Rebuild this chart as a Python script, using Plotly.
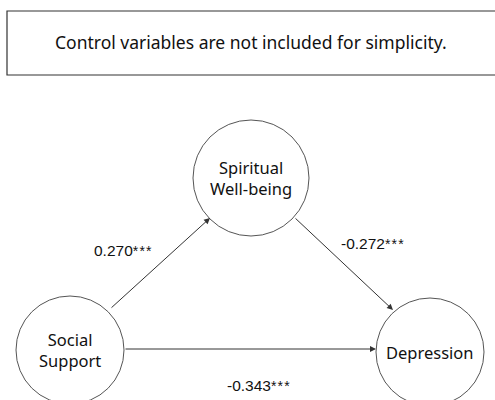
import plotly.graph_objects as go

note = "Control variables are not included for simplicity."
nodes = ["Social<br>Support", "Spiritual<br>Well-being", "Depression"]
paths_from = [0, 1, 0]
paths_to = [1, 2, 2]
coefs = ["0.270", "-0.272", "-0.343"]
sig = ["***", "***", "***"]

# layout (pixel space)
node_xy = [(70, 350), (251, 178), (430, 352)]
node_r = [54, 58, 54]
arrow_tail = [(110, 309), (294, 217), (124, 349)]
arrow_tip = [(210, 218), (393, 310), (376, 349)]
label_xy = [(123, 250), (372, 243), (258, 385)]

fig = go.Figure()
fig.update_layout(
    width=495, height=400, margin=dict(l=0, r=0, t=0, b=0),
    paper_bgcolor="white", plot_bgcolor="white", showlegend=False,
    xaxis=dict(range=[0, 495], visible=False, fixedrange=True),
    yaxis=dict(range=[400, 0], visible=False, fixedrange=True),
)

shapes = [dict(type="rect", xref="x", yref="y", x0=7, y0=11, x1=500, y1=75,
               line=dict(color="#333333", width=1.2), fillcolor="white", layer="below")]
for (cx, cy), r in zip(node_xy, node_r):
    shapes.append(dict(type="circle", xref="x", yref="y", x0=cx - r, x1=cx + r,
                       y0=cy - r, y1=cy + r, line=dict(color="#555555", width=1),
                       fillcolor="white", layer="below"))
fig.update_layout(shapes=shapes)

ann = [dict(x=251, y=42, xref="x", yref="y", text=note, showarrow=False,
            font=dict(family="Noto Sans", size=17.5, color="#111111"))]
for (cx, cy), t in zip(node_xy, nodes):
    ann.append(dict(x=cx, y=cy, xref="x", yref="y", text=t, showarrow=False,
                    font=dict(family="Noto Sans", size=16.5, color="#111111")))
for i in range(len(coefs)):
    tx, ty = arrow_tail[i]
    hx, hy = arrow_tip[i]
    ann.append(dict(x=hx, y=hy, ax=tx, ay=ty, xref="x", yref="y", axref="x", ayref="y",
                    text="", showarrow=True, arrowhead=2, arrowsize=1.2, arrowwidth=1,
                    arrowcolor="#333333", standoff=0, startstandoff=0))
    lx, ly = label_xy[i]
    stars = "\u200a".join(sig[i])
    ann.append(dict(x=lx, y=ly, xref="x", yref="y",
                    text=coefs[i] + "<span style='font-size:14px'>" + stars + "</span>",
                    showarrow=False, font=dict(family="Liberation Sans", size=15.5, color="#111111")))
fig.update_layout(annotations=ann)

fig.write_html("out.html", config={"displayModeBar": False},
               post_script="document.body.style.margin='0px';")
